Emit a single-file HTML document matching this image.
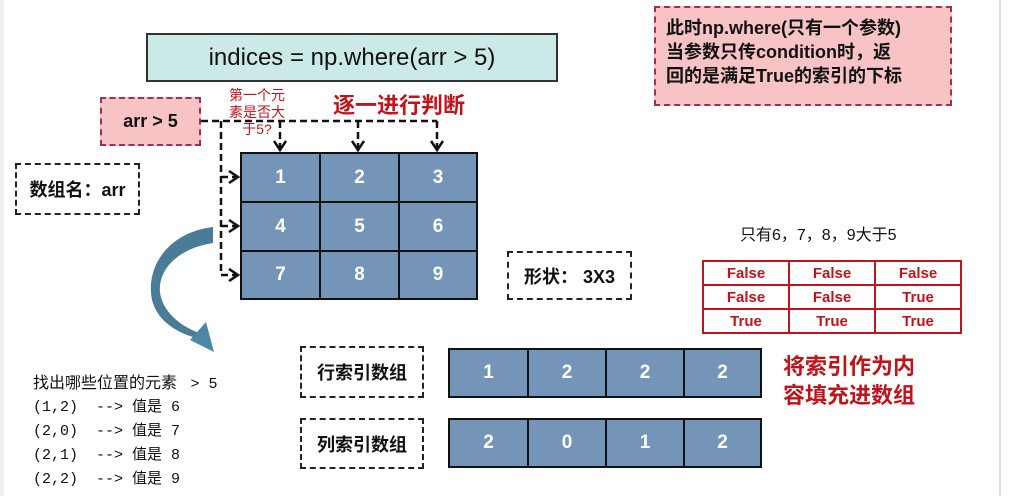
<!DOCTYPE html>
<html><head><meta charset="utf-8"><style>
body{margin:0;width:1012px;height:496px;background:#fff;position:relative;overflow:hidden;font-family:"Liberation Sans","Noto Sans CJK SC",sans-serif}
.a{position:absolute;box-sizing:border-box}
.dash{border:2px dashed #222;background:#fff;display:flex;align-items:center;justify-content:center;font-weight:bold;font-size:18px;color:#111}
.pink{background:#f7c3c5;border:2px dashed #a0304f}
.cell{position:absolute;box-sizing:border-box;background:#7494b8;border:2px solid #111;color:#fff;font-weight:bold;font-size:19px;display:flex;align-items:center;justify-content:center}
.tf{position:absolute;box-sizing:border-box;border:2px solid #c0141c;color:#c0141c;font-weight:bold;font-size:15px;display:flex;align-items:center;justify-content:center;background:#fff}
.red{color:#c0141c;font-weight:bold}
.mono{font-family:"Liberation Mono","Noto Sans CJK SC",monospace;font-size:15px;position:absolute;left:33px;white-space:pre;color:#111}
</style></head><body>
<div class="a" style="left:0;top:0;width:4px;height:496px;background:#eee"></div>
<div class="a" style="left:999px;top:0;width:2px;height:496px;background:#ddd"></div>

<div class="a" style="left:146px;top:33px;width:412px;height:49px;background:#cbe9e7;border:2px solid #333;display:flex;align-items:center;justify-content:center;font-size:24px;color:#111">indices = np.where(arr &gt; 5)</div>

<div class="a pink" style="left:654px;top:6px;width:298px;height:100px;padding:8px 0 0 10px;font-weight:bold;font-size:18px;line-height:24px;color:#111">此时np.where(只有一个参数)<br>当参数只传condition时，返<br>回的是满足True的索引的下标</div>

<div class="a pink dash" style="left:100px;top:97px;width:101px;height:49px;border-color:#a0304f;background:#f7c3c5">arr &gt; 5</div>

<svg class="a" style="left:0;top:0" width="1012" height="496">
<defs><marker id="m" markerWidth="14" markerHeight="14" refX="11" refY="7" orient="auto" markerUnits="userSpaceOnUse"><path d="M2,1 L11,7 L2,13" fill="none" stroke="#111" stroke-width="2.5"/></marker></defs>
<g stroke="#111" stroke-width="2.5" stroke-dasharray="7,4" fill="none">
<path d="M201,121 H437"/>
<path d="M221,121 V275"/>
<path d="M280,121 V150" marker-end="url(#m)"/>
<path d="M358,121 V150" marker-end="url(#m)"/>
<path d="M437,121 V150" marker-end="url(#m)"/>
<path d="M221,177 H238" marker-end="url(#m)"/>
<path d="M221,226 H238" marker-end="url(#m)"/>
<path d="M221,275 H238" marker-end="url(#m)"/>
</g>
<path d="M213,227 C170,232 145,265 152,300 C157,320 175,332 196,338 L199,333 C178,325 162,310 160,292 C158,268 180,248 213,243 Z" fill="#4a7c98"/>
<path d="M190,340 L206,322 L214,352 Z" fill="#4a88a6"/>
</svg>

<div class="a red" style="left:218px;top:87px;width:78px;font-size:14px;line-height:17px;font-weight:normal;color:#c0141c;text-align:center">第一个元<br>素是否大<br>于5?</div>
<div class="a red" style="left:333px;top:88px;font-size:22px">逐一进行判断</div>

<div class="cell" style="left:240px;top:152px;width:81px;height:51px">1</div>
<div class="cell" style="left:319px;top:152px;width:81px;height:51px">2</div>
<div class="cell" style="left:398px;top:152px;width:80px;height:51px">3</div>
<div class="cell" style="left:240px;top:201px;width:81px;height:51px">4</div>
<div class="cell" style="left:319px;top:201px;width:81px;height:51px">5</div>
<div class="cell" style="left:398px;top:201px;width:80px;height:51px">6</div>
<div class="cell" style="left:240px;top:250px;width:81px;height:50px">7</div>
<div class="cell" style="left:319px;top:250px;width:81px;height:50px">8</div>
<div class="cell" style="left:398px;top:250px;width:80px;height:50px">9</div>

<div class="a dash" style="left:15px;top:163px;width:125px;height:52px">数组名：arr</div>
<div class="a dash" style="left:507px;top:251px;width:125px;height:49px">形状：&nbsp;3X3</div>

<div class="a" style="left:740px;top:221px;font-size:16px;color:#111">只有6，7，8，9大于5</div>
<div class="tf" style="left:702px;top:260px;width:88px;height:26px">False</div>
<div class="tf" style="left:788px;top:260px;width:88px;height:26px">False</div>
<div class="tf" style="left:874px;top:260px;width:88px;height:26px">False</div>
<div class="tf" style="left:702px;top:284px;width:88px;height:26px">False</div>
<div class="tf" style="left:788px;top:284px;width:88px;height:26px">False</div>
<div class="tf" style="left:874px;top:284px;width:88px;height:26px">True</div>
<div class="tf" style="left:702px;top:308px;width:88px;height:26px">True</div>
<div class="tf" style="left:788px;top:308px;width:88px;height:26px">True</div>
<div class="tf" style="left:874px;top:308px;width:88px;height:26px">True</div>

<div class="mono" style="top:369px;font-family:'Liberation Sans','Noto Sans CJK SC',sans-serif;font-size:16px">找出哪些位置的元素 <span style="font-family:'Liberation Mono',monospace;font-size:15px"> &gt; 5</span></div>
<div class="mono" style="top:395px">(1,2)  --&gt; 值是 6</div>
<div class="mono" style="top:419px">(2,0)  --&gt; 值是 7</div>
<div class="mono" style="top:443px">(2,1)  --&gt; 值是 8</div>
<div class="mono" style="top:467px">(2,2)  --&gt; 值是 9</div>

<div class="a dash" style="left:300px;top:346px;width:124px;height:52px">行索引数组</div>
<div class="a dash" style="left:300px;top:418px;width:124px;height:51px">列索引数组</div>

<div class="cell" style="left:448px;top:348px;width:81px;height:50px">1</div>
<div class="cell" style="left:527px;top:348px;width:80px;height:50px">2</div>
<div class="cell" style="left:605px;top:348px;width:80px;height:50px">2</div>
<div class="cell" style="left:683px;top:348px;width:79px;height:50px">2</div>
<div class="cell" style="left:448px;top:418px;width:81px;height:50px">2</div>
<div class="cell" style="left:527px;top:418px;width:80px;height:50px">0</div>
<div class="cell" style="left:605px;top:418px;width:80px;height:50px">1</div>
<div class="cell" style="left:683px;top:418px;width:79px;height:50px">2</div>

<div class="a red" style="left:783px;top:352px;font-size:22px;line-height:29px">将索引作为内<br>容填充进数组</div>
</body></html>
